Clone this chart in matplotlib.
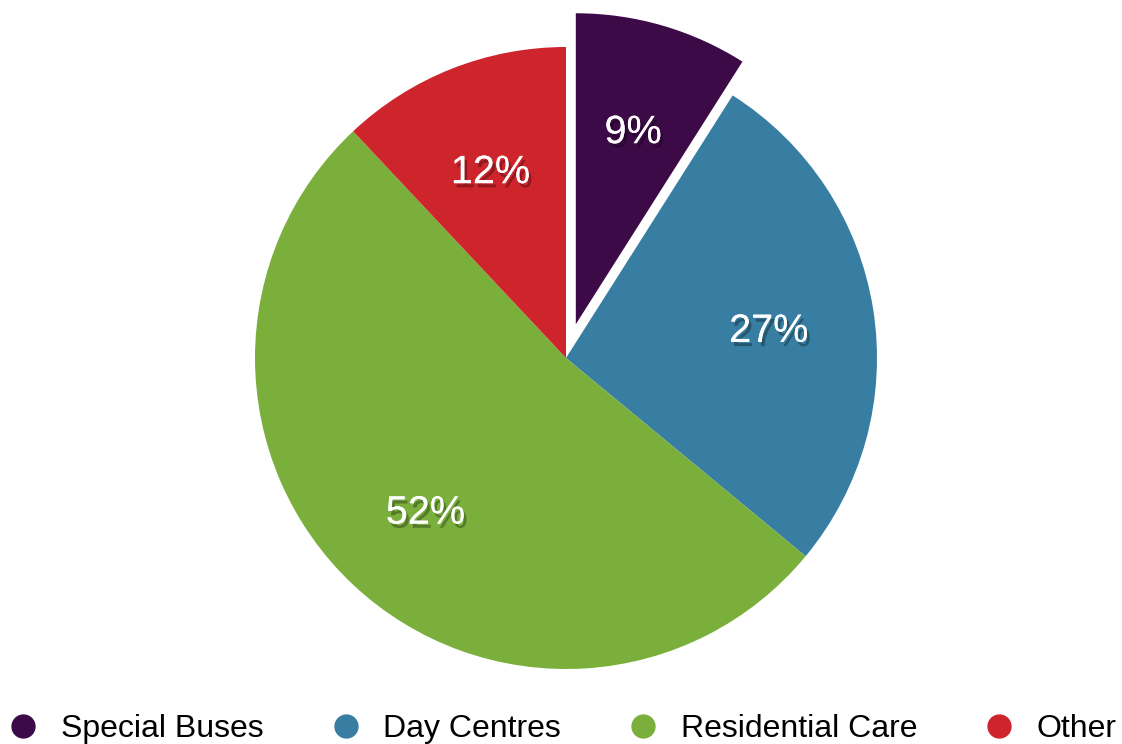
import matplotlib
matplotlib.use("Agg")
import matplotlib.pyplot as plt
import matplotlib.patheffects as pe
from matplotlib.lines import Line2D

categories = ["Special Buses", "Day Centres", "Residential Care", "Other"]
values = [9, 27, 52, 12]
colors = ["#3D0A48", "#377EA2", "#7BAF3C", "#CE242C"]
explode = [0.113, 0, 0, 0]

plt.rcParams['font.family'] = ['Liberation Sans', 'DejaVu Sans']

W, H = 1122, 744
fig = plt.figure(figsize=(W / 100, H / 100), dpi=100)
ax = fig.add_axes([0, 0, 1, 1])
R = 311.0
cx, cy = 566.0, 358.0

wedges, texts, autotexts = ax.pie(
    values, colors=colors, explode=explode, startangle=90, counterclock=False,
    radius=1.0, autopct=lambda p: f"{p:.0f}%", pctdistance=0.66,
    textprops=dict(color='white', fontsize=28.5),
    wedgeprops=dict(linewidth=0))
ax.set_xlim(-cx / R, (W - cx) / R)
ax.set_ylim(-(H - cy) / R, cy / R)
ax.set_aspect('equal')
ax.axis('off')
for t in autotexts:
    x, y = t.get_position()
    t.set_position((x, y - 5 / R))
    t.set_path_effects([pe.withSimplePatchShadow(offset=(2, -3), shadow_rgbFace='black', alpha=0.3),
                        pe.Normal()])

handles = [Line2D([], [], marker='o', linestyle='none', markersize=16.5,
                  markerfacecolor=c, markeredgecolor=c) for c in colors]
leg = fig.legend(handles, categories, loc='lower center', bbox_to_anchor=(0.5027, -0.017),
                 ncol=4, frameon=False, fontsize=23, handlelength=0.75,
                 handletextpad=0.8, columnspacing=2.2, borderaxespad=0)
fig.savefig("out.png", dpi=100)
